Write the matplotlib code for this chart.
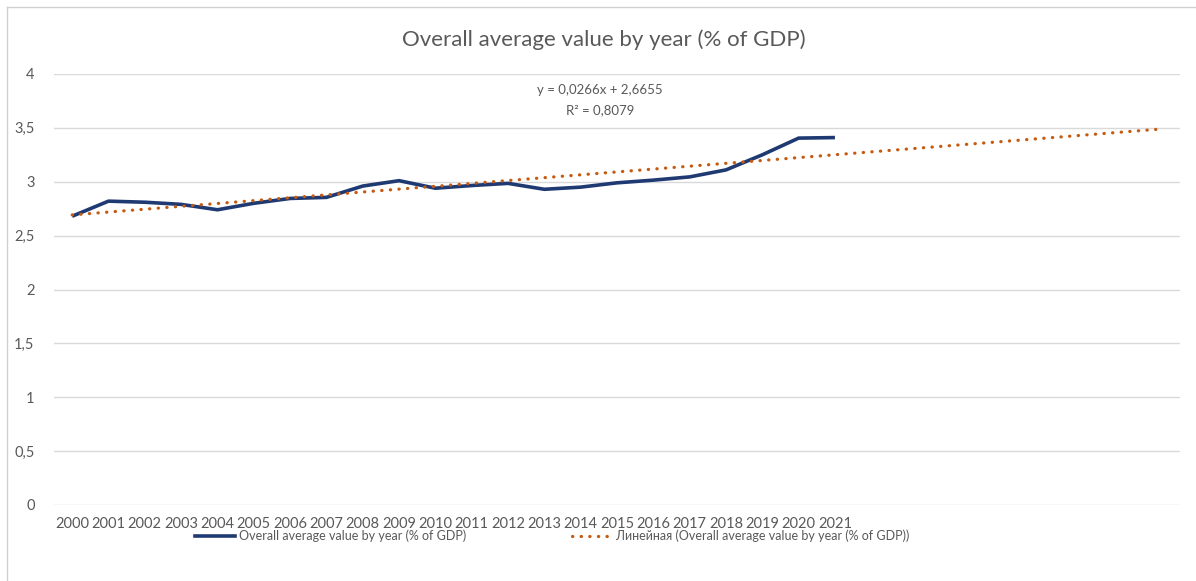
import matplotlib
matplotlib.use("Agg")
import matplotlib.pyplot as plt
from matplotlib.lines import Line2D
import numpy as np

years = [str(y) for y in range(2000, 2022)]
avg_gdp = [2.68, 2.82, 2.81, 2.79, 2.74, 2.80, 2.845, 2.855, 2.96, 3.01, 2.94,
           2.965, 2.985, 2.93, 2.95, 2.99, 3.015, 3.045, 3.11, 3.25, 3.405, 3.41]
y_ticks = [0, 0.5, 1, 1.5, 2, 2.5, 3, 3.5, 4]
y_tick_labels = ["0", "0,5", "1", "1,5", "2", "2,5", "3", "3,5", "4"]

# linear trend as reported by the spreadsheet (x counts from 1), forecast 9 periods ahead
trend_slope = 0.0266
trend_intercept = 2.6655
trend_r2 = 0.8079
forecast_periods = 9

TEXT = "#595959"
GRID = "#d9d9d9"
NAVY = "#1f3a73"
ORANGE = "#c55a11"
FONT = ["Lato", "DejaVu Sans"]

plt.rcParams["font.family"] = FONT

fig = plt.figure(figsize=(11.96, 5.81), dpi=100)
ax = fig.add_axes([54 / 1196, 1 - 505 / 581, (1180 - 54) / 1196, (505 - 74) / 581])

x = np.arange(len(avg_gdp))
ax.plot(x, avg_gdp, color=NAVY, lw=2.6, solid_capstyle="butt", zorder=3)

xt = np.arange(len(avg_gdp) + forecast_periods)
trend = trend_slope * (xt + 1) + trend_intercept
ax.plot(xt, trend, color=ORANGE, lw=2.3, linestyle=(0, (0.1, 2.6)),
        dash_capstyle="round", zorder=4)

ax.set_xlim(-0.5, len(xt) - 0.5)
ax.set_ylim(0, 4)
ax.set_yticks(y_ticks)
ax.set_yticklabels(y_tick_labels)
ax.set_xticks(x)
ax.set_xticklabels(years)
ax.tick_params(axis="both", length=0, labelsize=10.5, colors=TEXT)
ax.tick_params(axis="x", pad=9)
ax.tick_params(axis="y", pad=14)
ax.grid(axis="y", color=GRID, lw=1)
ax.set_axisbelow(True)
for s in ax.spines.values():
    s.set_visible(False)

fig.text(604 / 1196, 1 - 40 / 581, "Overall average value by year (% of GDP)",
         ha="center", va="center", fontsize=16, color=TEXT)

eq = "y = {:.4f}x + {:.4f}".format(trend_slope, trend_intercept).replace(".", ",")
r2 = "R² = {:.4f}".format(trend_r2).replace(".", ",")
fig.text(600 / 1196, 1 - 90 / 581, eq, ha="center", va="center", fontsize=9.5, color=TEXT)
fig.text(600 / 1196, 1 - 110 / 581, r2, ha="center", va="center", fontsize=9.5, color=TEXT)

handles = [
    Line2D([], [], color=NAVY, lw=2.6),
    Line2D([], [], color=ORANGE, lw=2.3, linestyle=(0, (0.1, 2.6)), dash_capstyle="round"),
]
labels = ["Overall average value by year (% of GDP)",
          "Линейная (Overall average value by year (% of GDP))"]
fig.legend(handles, labels, loc="center", bbox_to_anchor=(552 / 1196, 1 - 536 / 581),
           ncol=2, frameon=False, fontsize=9, labelcolor=TEXT, handlelength=3.2,
           handletextpad=0.3, columnspacing=8.5)

# chart area border (top and left edges)
fig.add_artist(Line2D([7 / 1196, 7 / 1196], [0, 1 - 7 / 581], transform=fig.transFigure,
                      color="#d0d0d0", lw=1))
fig.add_artist(Line2D([7 / 1196, 1], [1 - 7 / 581, 1 - 7 / 581], transform=fig.transFigure,
                      color="#d0d0d0", lw=1))

fig.savefig("out.png", dpi=100)
